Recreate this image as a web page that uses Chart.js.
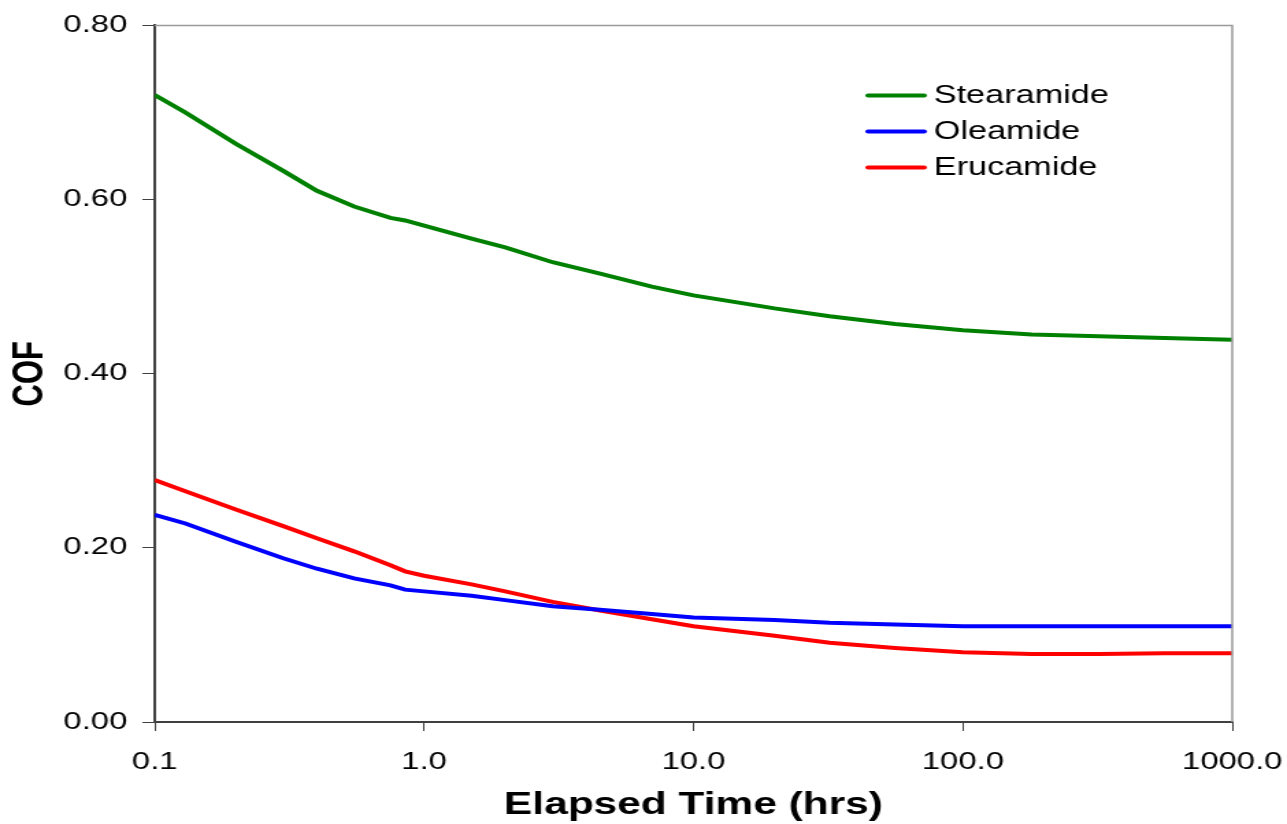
<!DOCTYPE html>
<html>
<head>
<meta charset="utf-8">
<title>COF vs Elapsed Time</title>
<script src="https://cdn.jsdelivr.net/npm/chart.js@4/dist/chart.umd.min.js"></script>
<style>
    html, body { margin: 0; padding: 0; background: #fff; }
</style>
</head>
<body>
<!-- the original picture is stretched sideways, so the canvas is drawn narrow and widened by css -->
<canvas id="cof" width="940" height="824" style="display:block;width:1287px;height:824px"></canvas>
<script>
// Tiempo transcurrido (hrs) - eje X logaritmico
const hours = [0.1, 0.13, 0.2, 0.3, 0.4, 0.55, 0.75, 0.85, 1, 1.5, 2, 3, 4.5, 7, 10, 20, 32, 56, 100, 180, 320, 560, 1000];

// COF por aditivo
const stearamide = [0.720, 0.700, 0.664, 0.633, 0.610, 0.592, 0.579, 0.576, 0.570, 0.555, 0.545, 0.528, 0.515, 0.500, 0.490, 0.475, 0.466, 0.457, 0.450, 0.445, 0.443, 0.441, 0.439];
const oleamide   = [0.238, 0.228, 0.207, 0.188, 0.176, 0.165, 0.157, 0.152, 0.150, 0.145, 0.140, 0.133, 0.129, 0.124, 0.120, 0.117, 0.114, 0.112, 0.110, 0.110, 0.110, 0.110, 0.110];
const erucamide  = [0.278, 0.265, 0.244, 0.225, 0.211, 0.196, 0.180, 0.173, 0.168, 0.158, 0.150, 0.138, 0.128, 0.118, 0.110, 0.099, 0.091, 0.085, 0.080, 0.078, 0.078, 0.079, 0.079];

const seriesNames = ["Stearamide", "Oleamide", "Erucamide"];

const xTickValues = [0.1, 1, 10, 100, 1000];
const xTickLabels = ["0.1", "1.0", "10.0", "100.0", "1000.0"];
const yTickValues = [0, 0.2, 0.4, 0.6, 0.8];
const yTickLabels = ["0.00", "0.20", "0.40", "0.60", "0.80"];

const FONT = '"Liberation Sans", Arial, sans-serif';

function toPoints(values) {
    return hours.map((h, i) => ({ x: h, y: values[i] }));
}

// leyenda dentro del area de trazado, arriba a la derecha
const insideLegend = {
    id: 'insideLegend',
    afterDatasetsDraw(chart) {
        const ctx = chart.ctx;
        const area = chart.chartArea;
        const x0 = area.right - 266;
        let y = area.top + 70;
        ctx.save();
        ctx.font = '25px ' + FONT;
        ctx.textBaseline = 'middle';
        chart.data.datasets.forEach(ds => {
            ctx.strokeStyle = ds.borderColor;
            ctx.lineWidth = 4;
            ctx.lineCap = 'round';
            ctx.beginPath();
            ctx.moveTo(x0, y);
            ctx.lineTo(x0 + 41, y);
            ctx.stroke();
            ctx.fillStyle = '#000';
            ctx.fillText(ds.label, x0 + 48, y + 1);
            y += 36;
        });
        ctx.restore();
    }
};

// borde gris arriba y a la derecha
const plotFrame = {
    id: 'plotFrame',
    afterDraw(chart) {
        const ctx = chart.ctx;
        const a = chart.chartArea;
        ctx.save();
        ctx.strokeStyle = '#9a9a9a';
        ctx.lineWidth = 1.5;
        ctx.beginPath();
        ctx.moveTo(a.left, a.top);
        ctx.lineTo(a.right, a.top);
        ctx.lineTo(a.right, a.bottom);
        ctx.stroke();
        ctx.restore();
    }
};

const colors = ['#008000', '#0000ff', '#ff0000'];
const seriesValues = [stearamide, oleamide, erucamide];

new Chart(document.querySelector('#cof'), {
    type: 'line',
    data: {
        datasets: seriesNames.map((name, i) => ({
            label: name,
            data: toPoints(seriesValues[i]),
            borderColor: colors[i],
            backgroundColor: colors[i],
            borderWidth: 4,
            pointRadius: 0,
            tension: 0,
            fill: false
        }))
    },
    options: {
        responsive: false,
        animation: false,
        devicePixelRatio: 1,
        layout: { padding: { top: 23, right: 40, left: 0, bottom: 0 } },
        plugins: {
            legend: { display: false },
            tooltip: { enabled: false }
        },
        scales: {
            x: {
                type: 'logarithmic',
                min: 0.1,
                max: 1000,
                afterBuildTicks: scale => { scale.ticks = xTickValues.map(v => ({ value: v })); },
                afterFit: scale => {
                    scale.height = 102;
                    scale.paddingLeft = 0;
                    scale.paddingRight = 0;
                },
                border: { color: '#404040', width: 2 },
                grid: { drawOnChartArea: false, drawTicks: true, tickLength: 9, color: '#404040' },
                ticks: {
                    color: '#000',
                    padding: 17,
                    maxRotation: 0,
                    autoSkip: false,
                    font: { family: FONT, size: 24 },
                    callback: v => xTickLabels[xTickValues.indexOf(v)]
                },
                title: {
                    display: true,
                    text: 'Elapsed Time (hrs)',
                    color: '#000',
                    padding: { top: 0, bottom: 0 },
                    font: { family: FONT, size: 31, weight: 'bold' }
                }
            },
            y: {
                min: 0,
                max: 0.8,
                afterBuildTicks: scale => { scale.ticks = yTickValues.map(v => ({ value: v })); },
                afterFit: scale => { scale.width = 113; },
                border: { color: '#404040', width: 2 },
                grid: { drawOnChartArea: false, drawTicks: true, tickLength: 9, color: '#404040' },
                ticks: {
                    color: '#000',
                    padding: 11,
                    font: { family: FONT, size: 24 },
                    callback: v => yTickLabels[yTickValues.indexOf(v)]
                },
                title: {
                    display: true,
                    text: 'COF',
                    color: '#000',
                    padding: { top: 4, bottom: 0 },
                    font: { family: FONT, size: 31, weight: 'bold' }
                }
            }
        }
    },
    plugins: [insideLegend, plotFrame]
});
</script>
</body>
</html>
